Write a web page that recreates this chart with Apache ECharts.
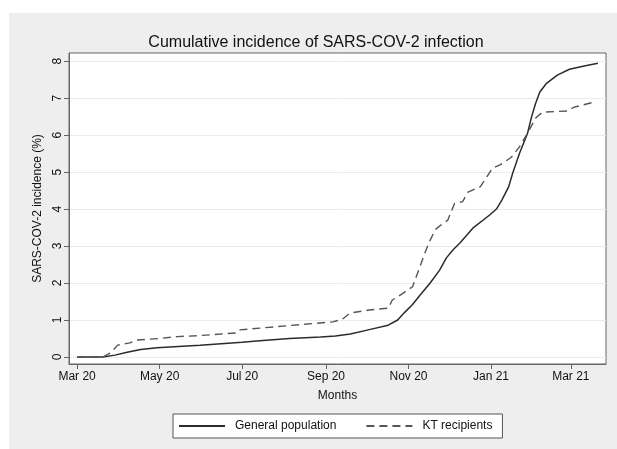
<!DOCTYPE html>
<html>
<head>
<meta charset="utf-8">
<script src="https://cdn.jsdelivr.net/npm/echarts@6/dist/echarts.min.js"></script>
<style>
html,body{margin:0;padding:0;background:#ffffff;}
#chart{width:617px;height:449px;}
</style>
</head>
<body>
<div id="chart"></div>
<script>
// ---- data ----
const generalDates = ['2020-03-01','2020-03-20','2020-03-29','2020-04-07','2020-04-17','2020-04-29','2020-05-31','2020-07-01','2020-07-14','2020-08-05','2020-08-28','2020-09-08','2020-09-19','2020-10-03','2020-10-17','2020-10-24','2020-10-29','2020-11-04','2020-11-09','2020-11-17','2020-11-24','2020-11-29','2020-12-04','2020-12-09','2020-12-19','2020-12-31','2021-01-05','2021-01-09','2021-01-14','2021-01-17','2021-01-22','2021-01-28','2021-01-31','2021-02-03','2021-02-06','2021-02-11','2021-02-19','2021-02-28','2021-03-10','2021-03-21'];
const generalValues = [0,0,0.05,0.13,0.2,0.25,0.32,0.40,0.44,0.5,0.54,0.57,0.62,0.74,0.86,1.0,1.2,1.42,1.65,2.0,2.35,2.68,2.9,3.08,3.5,3.84,4.0,4.24,4.6,4.97,5.5,6.05,6.5,6.86,7.16,7.4,7.62,7.78,7.86,7.94];
const ktDates = ['2020-03-01','2020-03-20','2020-03-25','2020-03-28','2020-03-31','2020-04-09','2020-04-14','2020-05-01','2020-05-14','2020-05-31','2020-06-15','2020-06-26','2020-06-28','2020-07-14','2020-08-05','2020-09-06','2020-09-13','2020-09-19','2020-10-03','2020-10-17','2020-10-20','2020-10-27','2020-11-04','2020-11-09','2020-11-14','2020-11-17','2020-11-21','2020-11-26','2020-11-30','2020-12-05','2020-12-11','2020-12-15','2020-12-24','2021-01-02','2021-01-08','2021-01-16','2021-01-22','2021-01-28','2021-02-03','2021-02-08','2021-02-26','2021-03-04','2021-03-19'];
const ktValues = [0,0,0.1,0.2,0.32,0.38,0.46,0.5,0.55,0.58,0.62,0.65,0.73,0.78,0.85,0.95,1.02,1.19,1.27,1.32,1.54,1.7,1.9,2.4,2.9,3.16,3.45,3.6,3.7,4.15,4.2,4.46,4.6,5.1,5.2,5.4,5.68,6.05,6.46,6.62,6.65,6.76,6.9];
const xTickDates = ['2020-03-01','2020-05-01','2020-07-01','2020-09-01','2020-11-01','2021-01-01','2021-03-01'];
const xTickLabels = ['Mar 20','May 20','Jul 20','Sep 20','Nov 20','Jan 21','Mar 21'];
const yTicks = [0,1,2,3,4,5,6,7,8];
const seriesNames = ['General population','KT recipients'];

// ---- chart ----
const FONT = 'Liberation Sans, Arial, Helvetica, sans-serif';
const ORIGIN = Date.UTC(2020, 2, 1);
const day = d => Math.round((new Date(d + 'T00:00:00Z').getTime() - ORIGIN) / 86400000);
const xTickDays = xTickDates.map(day);
const chart = echarts.init(document.getElementById('chart'), null, {renderer: 'canvas'});
chart.setOption({
  backgroundColor: '#ffffff',
  animation: false,
  textStyle: {fontFamily: FONT},
  graphic: [{
    type: 'rect', z: -10, silent: true,
    shape: {x: 9, y: 13, width: 608, height: 436},
    style: {fill: '#eeeeee'}
  }],
  title: {
    text: 'Cumulative incidence of SARS-COV-2 infection',
    left: 311, textAlign: 'center', top: 30,
    textStyle: {fontFamily: FONT, fontSize: 16, fontWeight: 'normal', color: '#111'}
  },
  grid: {
    left: 69, right: 11, top: 53, bottom: 85,
    show: true, backgroundColor: '#ffffff', borderColor: '#666', borderWidth: 1
  },
  legend: {
    data: seriesNames,
    left: 173, top: 414,
    itemWidth: 46, itemHeight: 10, itemGap: 29,
    padding: [6, 10, 6, 5],
    backgroundColor: '#ffffff', borderColor: '#555', borderWidth: 1,
    itemStyle: {opacity: 0},
    textStyle: {fontFamily: FONT, fontSize: 12, color: '#111', padding: [0, 0, 0, 5]}
  },
  xAxis: {
    type: 'value',
    min: day('2020-02-24'), max: day('2021-03-27'),
    name: 'Months', nameLocation: 'middle', nameGap: 26,
    nameTextStyle: {fontFamily: FONT, fontSize: 12, color: '#111'},
    axisLine: {show: true, onZero: false, lineStyle: {color: '#666', width: 1}},
    axisTick: {show: true, customValues: xTickDays, length: 5, lineStyle: {color: '#666'}},
    axisLabel: {
      customValues: xTickDays, margin: 7,
      fontFamily: FONT, fontSize: 12, color: '#111',
      formatter: v => { const i = xTickDays.indexOf(v); return i >= 0 ? xTickLabels[i] : ''; }
    },
    splitLine: {show: false}
  },
  yAxis: {
    type: 'value',
    min: -0.19, max: 8.22,
    name: 'SARS-COV-2 incidence (%)', nameLocation: 'middle', nameGap: 18,
    nameTextStyle: {fontFamily: FONT, fontSize: 12, color: '#111'},
    axisLine: {show: true, onZero: false, lineStyle: {color: '#666', width: 1}},
    axisTick: {show: true, customValues: yTicks, length: 5, lineStyle: {color: '#666'}},
    axisLabel: {
      customValues: yTicks, rotate: 90, margin: 5,
      fontFamily: FONT, fontSize: 12, color: '#111'
    },
    splitLine: {show: true, lineStyle: {color: '#ebebeb', width: 1}}
  },
  series: [
    {
      name: seriesNames[0], type: 'line', showSymbol: false, symbol: 'none',
      data: generalDates.map((d, i) => [day(d), generalValues[i]]),
      lineStyle: {color: '#2b2b2b', width: 1.5, type: 'solid'},
      itemStyle: {color: '#2b2b2b'}
    },
    {
      name: seriesNames[1], type: 'line', showSymbol: false, symbol: 'none',
      data: ktDates.map((d, i) => [day(d), ktValues[i]]),
      lineStyle: {color: '#555555', width: 1.4, type: [8, 5]},
      itemStyle: {color: '#555555'}
    }
  ]
});
</script>
</body>
</html>
